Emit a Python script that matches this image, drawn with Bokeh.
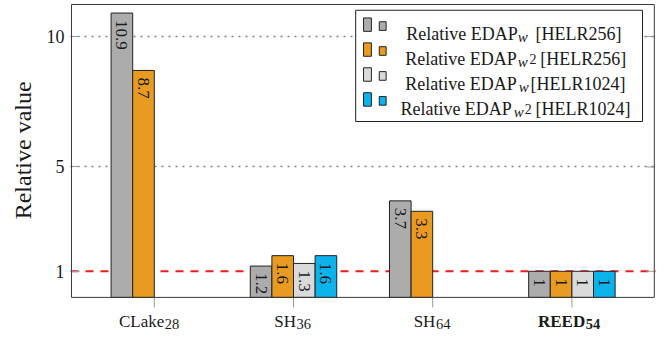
import math
from bokeh.plotting import figure
from bokeh.models import (Range1d, FixedTicker, Span, Label, Title,
                          BoxAnnotation, ColumnDataSource)
from bokeh.embed import file_html
from bokeh.resources import INLINE
from bokeh.core.properties import value

# ---------------- data ----------------
categories = ["CLake", "SH", "SH", "REED"]
category_subscripts = ["28", "36", "64", "54"]
category_bold = [False, False, False, True]

edap_w_helr256 = [10.9, 1.2, 3.7, 1.0]
edap_w2_helr256 = [8.7, 1.6, 3.3, 1.0]
edap_w_helr1024 = [None, 1.3, None, 1.0]
edap_w2_helr1024 = [None, 1.6, None, 1.0]

y_ticks = [1, 5, 10]
reference_value = 1

legend_main = ["Relative EDAP", "Relative EDAP", "Relative EDAP", "Relative EDAP"]
legend_sub = ["w", "w", "w", "w"]
legend_sub2 = ["", "2", "", "2"]
legend_tail = ["[HELR256]", "[HELR256]", "[HELR1024]", "[HELR1024]"]

series = [edap_w_helr256, edap_w2_helr256, edap_w_helr1024, edap_w2_helr1024]
colors = ["#acacac", "#e99a20", "#dadada", "#0bb3ec"]

# ---------------- layout ----------------
FONT = "Liberation Serif"
TXT = "#1a1a1a"
W, H = 656, 332
FL = 69                       # frame left (figure px)
SX, SY = 0.984, 0.959         # compression of the reference layout


def fxr(x):  # reference px -> figure px
    return 70 + (x - 70.7) * SX


def fyr(y):
    return 4 + (y - 4) * SY


PX_X = 141.7 * SX
PX_Y = 27.2 * SY
TICK0 = fxr(155)
ZERO = fyr(309.4)


def dxf(px):  # figure px -> data x
    return (px - TICK0) / PX_X


def dyf(py):  # figure px -> data y
    return (ZERO - py) / PX_Y


def rx(x):
    return dxf(fxr(x))


def ry(y):
    return dyf(fyr(y))


bar_w = 22 / 141.7

p = figure(width=W, height=H, x_range=Range1d(dxf(FL), dxf(W)),
           y_range=Range1d(dyf(H), dyf(0)), output_backend="svg",
           toolbar_location=None, x_axis_location=None,
           min_border_left=FL, min_border_right=0,
           min_border_top=0, min_border_bottom=0)
p.outline_line_color = None
p.background_fill_color = "white"
p.border_fill_color = "white"

p.yaxis.ticker = FixedTicker(ticks=y_ticks)
p.yaxis.major_tick_in = 9
p.yaxis.major_tick_out = 0
p.yaxis.major_tick_line_color = "#999999"
p.yaxis.minor_tick_line_color = None
p.yaxis.axis_line_color = None
p.yaxis.major_label_standoff = 6
p.yaxis.major_label_text_font = FONT
p.yaxis.major_label_text_font_size = "18px"
p.yaxis.major_label_text_color = TXT

p.add_layout(Title(text="Relative value", align="left", offset=H - fyr(228), standoff=15,
                   text_font=FONT, text_font_size="24px", text_font_style="normal",
                   text_color=TXT), "left")

p.xgrid.visible = False
p.ygrid.ticker = FixedTicker(ticks=[t for t in y_ticks if t != reference_value])
p.ygrid.grid_line_color = "#808080"
p.ygrid.grid_line_width = 1.6
p.ygrid.grid_line_dash = "2 5"

p.add_layout(Span(location=reference_value, dimension="width",
                  line_color="#ee1c1c", line_width=2, line_dash="8 7",
                  level="underlay"))

# bars and value labels
for k, (vals, col) in enumerate(zip(series, colors)):
    off = (k - 1.5) * bar_w
    xs = [i + off for i, v in enumerate(vals) if v is not None]
    tops = [v for v in vals if v is not None]
    labels = [f"{v:g}" for v in tops]
    src = ColumnDataSource(dict(x=xs, top=tops, label=labels))
    p.vbar(x="x", top="top", bottom=0, width=bar_w, source=src,
           fill_color=col, line_color="#222222", line_width=1)
    p.text(x="x", y="top", text="label", source=src, angle=-math.pi / 2,
           text_align="left", text_baseline="middle", y_offset=7,
           text_font=value(FONT), text_font_size="17px", text_color=TXT)

# axis box
box_r = rx(664)
p.add_layout(BoxAnnotation(left=dxf(70), right=box_r, top=ry(4), bottom=0,
                           fill_color=None, line_color="#3a3a3a",
                           line_width=1, line_alpha=1.0))

# x ticks (below axis) and mirrored y ticks (right side)
cat_idx = list(range(len(categories)))
p.segment(x0=cat_idx, x1=cat_idx, y0=[0] * len(cat_idx),
          y1=[-10 / PX_Y] * len(cat_idx), line_color="#999999", line_width=1)
p.segment(x0=[box_r - 8 / PX_X] * len(y_ticks), x1=[box_r] * len(y_ticks),
          y0=y_ticks, y1=y_ticks, line_color="#999999", line_width=1)

# category labels with subscripts
junction = [10, 2.6, 2.7, 13.3]
for i, (c, s, b) in enumerate(zip(categories, category_subscripts, category_bold)):
    st = "bold" if b else "normal"
    p.add_layout(Label(x=i, y=0, x_offset=junction[i], y_offset=-24, text=c,
                       text_align="right", text_baseline="alphabetic",
                       text_font=FONT, text_font_size="17px", text_color=TXT,
                       text_font_style=st))
    p.add_layout(Label(x=i, y=0, x_offset=junction[i] + 0.5, y_offset=-27,
                       text=s, text_align="left", text_baseline="alphabetic",
                       text_font=FONT, text_font_size="14.5px", text_color=TXT,
                       text_font_style=st))

# legend (positions in reference pixels)
p.add_layout(BoxAnnotation(left=rx(360), right=rx(652), top=ry(10), bottom=ry(126),
                           fill_color="white", fill_alpha=1.0,
                           line_color="#222222", line_width=1, line_alpha=1.0))
base = [35, 61, 87, 113]
main_end = [525, 524, 524, 519]
sub_start = [525, 525, 526, 521]
sub2_start = [0, 537, 0, 532]
tail_start = [543, 548, 538, 543]
for r in range(4):
    bl = base[r]
    p.add_layout(BoxAnnotation(left=rx(368), right=rx(376), top=ry(bl - 17), bottom=ry(bl - 3),
                               fill_color=colors[r], fill_alpha=1.0,
                               line_color="#222222", line_width=1, line_alpha=1.0))
    p.add_layout(BoxAnnotation(left=rx(384), right=rx(391), top=ry(bl - 13), bottom=ry(bl - 4),
                               fill_color=colors[r], fill_alpha=1.0,
                               line_color="#222222", line_width=1, line_alpha=1.0))
    p.add_layout(Label(x=rx(main_end[r]), y=ry(bl), text=legend_main[r],
                       text_align="right", text_baseline="alphabetic",
                       text_font=FONT, text_font_size="18px", text_color=TXT))
    p.add_layout(Label(x=rx(sub_start[r]), y=ry(bl + 3), text=legend_sub[r],
                       text_align="left", text_baseline="alphabetic",
                       text_font=FONT, text_font_size="15px", text_color=TXT,
                       text_font_style="italic"))
    if legend_sub2[r]:
        p.add_layout(Label(x=rx(sub2_start[r]), y=ry(bl), text=legend_sub2[r],
                           text_align="left", text_baseline="alphabetic",
                           text_font=FONT, text_font_size="14px", text_color=TXT))
    p.add_layout(Label(x=rx(tail_start[r]), y=ry(bl), text=legend_tail[r],
                       text_align="left", text_baseline="alphabetic",
                       text_font=FONT, text_font_size="18px", text_color=TXT))

open("out.html", "w").write(file_html(p, INLINE))
